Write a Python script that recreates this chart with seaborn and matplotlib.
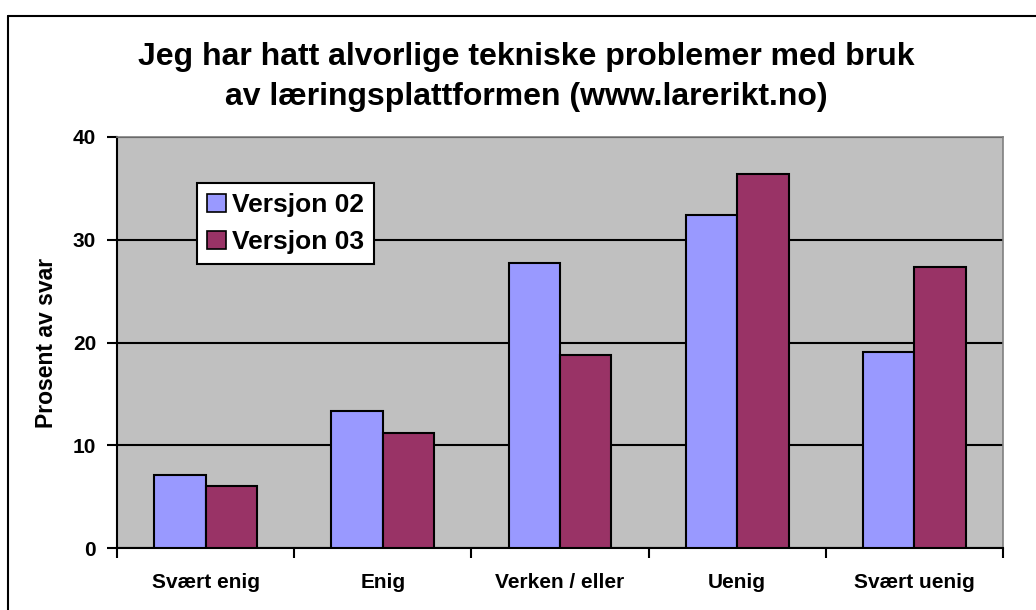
import matplotlib
matplotlib.use("Agg")
import matplotlib.pyplot as plt
from matplotlib.lines import Line2D
import seaborn as sns
import pandas as pd

categories = ["Svært enig", "Enig", "Verken / eller", "Uenig", "Svært uenig"]
series_names = ["Versjon 02", "Versjon 03"]
versjon_02 = [7.15, 13.3, 27.75, 32.4, 19.1]
versjon_03 = [6.0, 11.2, 18.8, 36.4, 27.3]
y_ticks = [0, 10, 20, 30, 40]
title = "Jeg har hatt alvorlige tekniske problemer med bruk\nav læringsplattformen (www.larerikt.no)"
y_label = "Prosent av svar"

df = pd.DataFrame({
    "Kategori": categories * 2,
    "Serie": [series_names[0]] * len(categories) + [series_names[1]] * len(categories),
    "Prosent": versjon_02 + versjon_03,
})

sns.set_theme(style="white")
plt.rcParams["font.family"] = ["Liberation Sans", "DejaVu Sans"]
plt.rcParams["text.color"] = "black"
plt.rcParams["axes.labelcolor"] = "black"
plt.rcParams["xtick.color"] = "black"
plt.rcParams["ytick.color"] = "black"

fig = plt.figure(figsize=(10.36, 6.10), dpi=100)
ax = fig.add_axes([117 / 1036, 1 - 548 / 610, (1003 - 117) / 1036, (548 - 137) / 610])
ax.set_facecolor("#C0C0C0")

sns.barplot(data=df, x="Kategori", y="Prosent", hue="Serie", order=categories,
            hue_order=series_names, palette=["#9999FF", "#993366"],
            width=0.58, gap=0, edgecolor="black", linewidth=1.5,
            saturation=1, ax=ax, zorder=3)

ax.set_xlim(-0.5, len(categories) - 0.5)
ax.set_ylim(0, 40)
ax.set_yticks(y_ticks)
ax.set_yticklabels([str(t) for t in y_ticks], fontsize=15, fontweight="bold", color="black")
ax.yaxis.grid(True, color="black", linewidth=1.5, zorder=0)
ax.set_axisbelow(True)
ax.set_xticks(range(len(categories)))
ax.set_xticklabels(categories, fontsize=15, fontweight="bold", color="black")
ax.set_xticks([i - 0.5 for i in range(len(categories) + 1)], minor=True)
ax.tick_params(axis="x", which="major", length=0, pad=18)
ax.tick_params(axis="x", which="minor", length=7, width=1.5, color="black", direction="out", bottom=True)
ax.tick_params(axis="y", which="major", length=7, width=1.5, color="black", direction="out", left=True, pad=8)
ax.set_xlabel("")
ax.set_ylabel("")

for side in ["left", "bottom"]:
    ax.spines[side].set_color("black")
    ax.spines[side].set_linewidth(1.5)
for side in ["top", "right"]:
    ax.spines[side].set_color("#808080")
    ax.spines[side].set_linewidth(1.2)
for s in ax.spines.values():
    s.set_visible(True)

leg = ax.legend(loc="upper left", bbox_to_anchor=(197 / 1036, 1 - 183 / 610),
                bbox_transform=fig.transFigure, borderaxespad=0, frameon=True,
                fancybox=False, shadow=False, framealpha=1, edgecolor="black",
                prop={"size": 19, "weight": "bold"}, handlelength=0.7,
                handleheight=0.7, handletextpad=0.25, borderpad=0.38,
                labelspacing=0.5, title=None)
leg.get_frame().set_linewidth(1.5)
for h in leg.legend_handles:
    h.set_edgecolor("black")
    h.set_linewidth(1.2)
for t in leg.get_texts():
    t.set_color("black")

fig.text(0.508, 1 - 77 / 610, title, ha="center", va="center", fontsize=23,
         fontweight="bold", linespacing=1.42, color="black")
fig.text(47 / 1036, 1 - 343 / 610, y_label, ha="center", va="center",
         rotation=90, fontsize=16.5, fontweight="bold", color="black")

fig.add_artist(Line2D([8 / 1036, 8 / 1036], [0, 1 - 16 / 610], transform=fig.transFigure,
                      color="black", linewidth=1.5))
fig.add_artist(Line2D([8 / 1036, 1], [1 - 16 / 610, 1 - 16 / 610], transform=fig.transFigure,
                      color="black", linewidth=1.5))

fig.savefig("out.png", dpi=100, facecolor="white")
